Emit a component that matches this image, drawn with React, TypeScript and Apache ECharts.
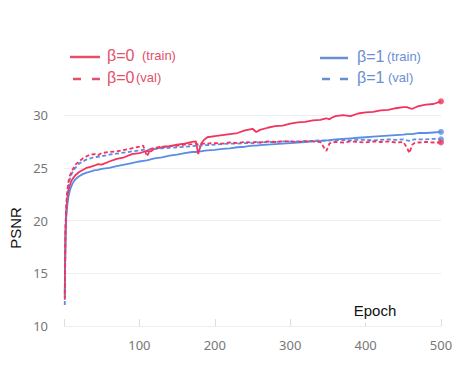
import React, { useEffect, useRef } from "react";
import * as echarts from "echarts";

const epochs = [1,2,3,4,5,6,8,10,12,15,20,25,30,35,40,45,50,60,70,80,90,100,105,110,115,120,130,140,150,160,170,175,178,182,185,190,200,210,220,230,240,250,255,260,270,280,290,300,310,320,330,340,345,348,352,355,360,370,380,390,400,410,420,430,440,450,455,458,462,465,470,480,490,500];

const redTrain = [12.8,19.0,20.8,21.8,22.4,22.9,23.4,23.8,24.0,24.3,24.6,24.8,25.0,25.1,25.2,25.35,25.3,25.6,25.85,26.0,26.3,26.4,26.5,26.6,26.55,26.8,26.95,27.05,27.2,27.3,27.45,27.5,26.3,27.3,27.6,27.9,28.0,28.1,28.2,28.3,28.55,28.7,28.4,28.6,28.8,28.95,29.0,29.2,29.3,29.35,29.5,29.55,29.65,29.7,29.6,29.75,29.9,30.0,29.9,30.15,30.25,30.3,30.45,30.5,30.65,30.75,30.75,30.65,30.6,30.7,30.85,31.0,31.05,31.3];

const redVal = [12.5,19.5,21.5,22.5,23.2,23.7,24.3,24.6,24.9,25.3,25.6,25.9,26.1,26.25,26.3,26.2,26.4,26.5,26.55,26.7,26.85,27.0,27.1,26.1,26.8,26.9,27.0,27.05,27.1,27.2,27.25,27.3,27.2,27.25,27.3,27.3,27.35,27.3,27.4,27.35,27.45,27.4,27.45,27.4,27.5,27.45,27.5,27.5,27.45,27.5,27.5,27.45,26.9,26.6,27.3,27.4,27.45,27.4,27.5,27.45,27.4,27.5,27.45,27.5,27.4,27.45,26.9,26.4,27.2,27.35,27.4,27.45,27.4,27.4];

const blueTrain = [13.0,18.5,20.3,21.2,21.8,22.3,22.9,23.3,23.6,23.9,24.2,24.4,24.55,24.65,24.75,24.8,24.9,25.0,25.15,25.3,25.45,25.6,25.65,25.7,25.8,25.9,26.0,26.15,26.25,26.4,26.5,26.5,26.55,26.55,26.6,26.65,26.7,26.8,26.85,26.95,27.0,27.1,27.1,27.15,27.2,27.25,27.3,27.35,27.4,27.45,27.5,27.55,27.6,27.6,27.6,27.65,27.7,27.75,27.8,27.85,27.9,27.95,28.0,28.05,28.1,28.15,28.2,28.2,28.2,28.25,28.3,28.3,28.35,28.4];

const blueVal = [12.0,19.0,21.0,22.0,22.8,23.3,24.0,24.4,24.7,25.0,25.4,25.6,25.8,25.9,26.0,26.05,26.1,26.25,26.35,26.45,26.55,26.65,26.7,26.7,26.75,26.8,26.85,26.9,26.95,27.0,27.05,27.1,27.0,27.1,27.15,27.15,27.2,27.25,27.3,27.3,27.35,27.35,27.4,27.4,27.45,27.45,27.5,27.5,27.5,27.55,27.55,27.6,27.55,27.6,27.6,27.6,27.6,27.65,27.6,27.65,27.65,27.6,27.65,27.7,27.65,27.7,27.6,27.55,27.65,27.7,27.7,27.7,27.75,27.7];

const xTicks = [100, 200, 300, 400, 500];
const yTicks = [10, 15, 20, 25, 30];

const RED = "#f2345c";
const BLUE = "#5a8de3";
const RED_LEG = "#e2506a";
const BLUE_LEG = "#6a8ed3";

const pairs = (vals: number[]) => epochs.map((e, i) => [e, vals[i]]);
const last = (vals: number[]) => [epochs[epochs.length - 1], vals[vals.length - 1]];

export default function App() {
  const ref = useRef<HTMLDivElement>(null);
  useEffect(() => {
    if (!ref.current) return;
    const chart = echarts.init(ref.current, undefined, { renderer: "svg" });
    const lineSeries = (name: string, vals: number[], color: string, dashed: boolean) => ({
      name,
      type: "line",
      data: pairs(vals),
      symbol: "none",
      lineStyle: { color, width: 1.8, type: dashed ? [4, 2.5] : "solid" },
      itemStyle: { color },
      z: dashed ? 3 : 2,
    });
    const endDot = (vals: number[], color: string) => ({
      type: "scatter",
      data: [last(vals)],
      symbol: "circle",
      symbolSize: 6,
      itemStyle: { color },
      z: 5,
    });
    const legendText = (x: number, y: number, big: string, small: string, color: string, gap: number) => [
      {
        type: "text",
        left: x,
        top: y - 10,
        style: { text: big, fill: color, font: '16px "Liberation Sans", Arial, sans-serif' },
      },
      {
        type: "text",
        left: x + gap,
        top: y - 8,
        style: { text: small, fill: color, font: '13px "Liberation Sans", Arial, sans-serif' },
      },
    ];
    chart.setOption({
      animation: false,
      grid: { left: 64, right: 19, top: 94, bottom: 40 },
      xAxis: [
        {
          type: "value",
          min: 0,
          max: 500,
          interval: 100,
          axisLine: { show: true, lineStyle: { color: "#eeeeee" } },
          axisTick: { show: true, inside: true, length: 7, lineStyle: { color: "#dddddd" } },
          splitLine: { show: false },
          axisLabel: {
            color: "#777777",
            fontSize: 13,
            margin: 12,
            fontFamily: '"Noto Sans", "Liberation Sans", sans-serif',
            formatter: (v: number) => (xTicks.includes(v) ? String(v) : ""),
          },
        },
      ],
      yAxis: {
        type: "value",
        min: 10,
        max: 32,
        interval: 5,
        axisLine: { show: false },
        axisTick: { show: false },
        splitLine: { show: true, showMaxLine: false, lineStyle: { color: "#eeeeee" } },
        axisLabel: {
          color: "#777777",
          fontSize: 13,
          margin: 16,
          fontFamily: '"Noto Sans", "Liberation Sans", sans-serif',
          formatter: (v: number) => (yTicks.includes(v) ? String(v) : ""),
        },
      },
      graphic: [
        {
          type: "text",
          x: 15,
          y: 228,
          rotation: Math.PI / 2,
          style: {
            text: "PSNR",
            fill: "#111111",
            font: '15px "Liberation Sans", Arial, sans-serif',
            align: "center",
            verticalAlign: "middle",
          },
        },
        {
          type: "text",
          x: 375,
          y: 310,
          z: 10,
          style: {
            text: "Epoch",
            fill: "#111111",
            font: '15px "Liberation Sans", Arial, sans-serif',
            align: "center",
            verticalAlign: "middle",
            backgroundColor: "#ffffff",
            padding: [3, 8, 8, 8],
          },
        },
        { type: "line", shape: { x1: 70, y1: 57, x2: 100, y2: 57 }, style: { stroke: RED_LEG, lineWidth: 2.5 } },
        { type: "line", shape: { x1: 73, y1: 79, x2: 100, y2: 79 }, style: { stroke: RED_LEG, lineWidth: 2.5, lineDash: [8, 11] } },
        { type: "line", shape: { x1: 320, y1: 58, x2: 348, y2: 58 }, style: { stroke: BLUE_LEG, lineWidth: 2.5 } },
        { type: "line", shape: { x1: 322, y1: 79, x2: 348, y2: 79 }, style: { stroke: BLUE_LEG, lineWidth: 2.5, lineDash: [8, 10] } },
        ...legendText(107, 57, "β=0", "(train)", RED_LEG, 35),
        ...legendText(107, 79, "β=0", "(val)", RED_LEG, 29),
        ...legendText(357, 58, "β=1", "(train)", BLUE_LEG, 30),
        ...legendText(357, 79, "β=1", "(val)", BLUE_LEG, 31),
      ],
      series: [
        lineSeries("β=1 (train)", blueTrain, BLUE, false),
        lineSeries("β=1 (val)", blueVal, BLUE, true),
        lineSeries("β=0 (train)", redTrain, RED, false),
        lineSeries("β=0 (val)", redVal, RED, true),
        endDot(blueTrain, BLUE),
        endDot(blueVal, BLUE),
        endDot(redTrain, RED),
        endDot(redVal, RED),
      ],
    });
    return () => chart.dispose();
  }, []);
  return <div ref={ref} style={{ width: 460, height: 366, position: "absolute", left: 0, top: 0 }} />;
}
